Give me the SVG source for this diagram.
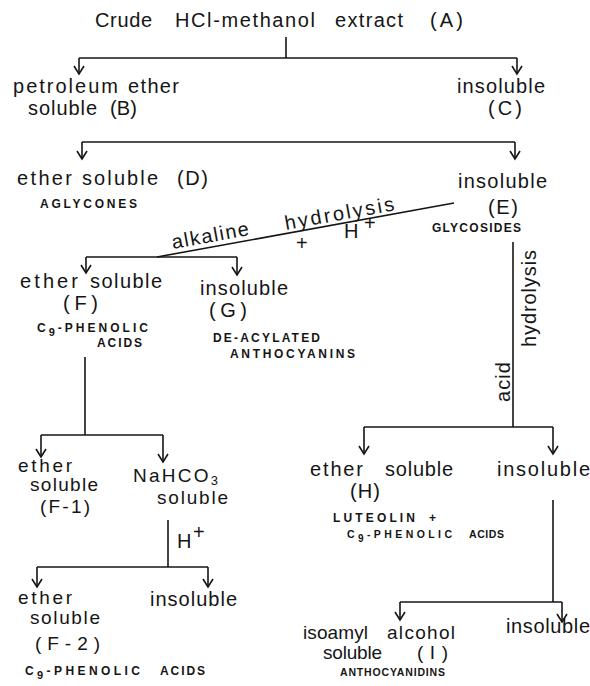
<svg xmlns="http://www.w3.org/2000/svg" width="590" height="686" viewBox="0 0 590 686">
<style>
text{font-family:"Liberation Sans",Arial,sans-serif;fill:#151515}
.t{font-size:20px}
.n{font-size:19px}
.s{font-size:12px;font-weight:bold}
.x{font-size:10.5px;font-weight:bold}
.c line,.c path{stroke:#151515;stroke-width:1.6;fill:none}
</style>
<defs>
<marker id="ah" markerUnits="userSpaceOnUse" markerWidth="14" markerHeight="14" refX="10" refY="7" orient="auto" viewBox="0 0 14 14">
<path d="M2,2 L10,7 L2,12" fill="none" stroke="#151515" stroke-width="1.6"/>
</marker>
</defs>
<rect width="590" height="686" fill="#fff"/>
<g class="c" id="connectors">
<line x1="286" y1="37" x2="286" y2="58"/>
<line x1="79" y1="58" x2="517" y2="58"/>
<line x1="79" y1="58" x2="79" y2="74" marker-end="url(#ah)"/>
<line x1="517" y1="58" x2="517" y2="74" marker-end="url(#ah)"/>
<line x1="82" y1="142" x2="515" y2="142"/>
<line x1="82" y1="142" x2="82" y2="159" marker-end="url(#ah)"/>
<line x1="515" y1="142" x2="515" y2="159" marker-end="url(#ah)"/>
<line x1="454" y1="203" x2="157" y2="257"/>
<line x1="86" y1="257" x2="237" y2="257"/>
<line x1="86" y1="257" x2="86" y2="273" marker-end="url(#ah)"/>
<line x1="237" y1="257" x2="237" y2="275" marker-end="url(#ah)"/>
<line x1="513" y1="242" x2="513" y2="427"/>
<line x1="364" y1="427" x2="553" y2="427"/>
<line x1="364" y1="427" x2="364" y2="454" marker-end="url(#ah)"/>
<line x1="553" y1="427" x2="553" y2="454" marker-end="url(#ah)"/>
<line x1="553" y1="500" x2="553" y2="602"/>
<line x1="400" y1="602" x2="562" y2="602"/>
<line x1="400" y1="602" x2="400" y2="620" marker-end="url(#ah)"/>
<line x1="562" y1="602" x2="562" y2="622" marker-end="url(#ah)"/>
<line x1="85" y1="357" x2="85" y2="435"/>
<line x1="41" y1="435" x2="163" y2="435"/>
<line x1="41" y1="435" x2="41" y2="457" marker-end="url(#ah)"/>
<line x1="163" y1="435" x2="163" y2="462" marker-end="url(#ah)"/>
<line x1="168" y1="520" x2="168" y2="567"/>
<line x1="37" y1="567" x2="208" y2="567"/>
<line x1="37" y1="567" x2="37" y2="587" marker-end="url(#ah)"/>
<line x1="208" y1="567" x2="208" y2="587" marker-end="url(#ah)"/>
</g>
<g id="labels-edges">
<text class="t" transform="translate(173,249) rotate(-10.3)" textLength="78" lengthAdjust="spacing">alkaline</text>
<text class="t" transform="translate(286,230) rotate(-10.3)" textLength="111" lengthAdjust="spacing">hydrolysis</text>
<text class="t" x="296" y="250">+</text>
<text class="t" x="344" y="238">H</text>
<text class="t" x="364" y="230" font-size="13">+</text>
<text class="t" transform="translate(536,347) rotate(-90)" textLength="97" lengthAdjust="spacing">hydrolysis</text>
<text class="t" transform="translate(510,402) rotate(-90)" textLength="40" lengthAdjust="spacing">acid</text>
<text class="t" x="177" y="548">H</text>
<text class="t" x="193" y="539" font-size="14">+</text>
</g>
<g id="A">
<text class="t" x="95" y="27" textLength="57" lengthAdjust="spacing">Crude</text>
<text class="t" x="175" y="27" textLength="140" lengthAdjust="spacing">HCl-methanol</text>
<text class="t" x="335" y="27" textLength="68" lengthAdjust="spacing">extract</text>
<text class="t" x="430" y="27" textLength="33" lengthAdjust="spacing">(A)</text>
</g>
<g id="B">
<text class="t" x="13" y="93" textLength="105" lengthAdjust="spacing">petroleum</text>
<text class="t" x="128" y="93" textLength="51" lengthAdjust="spacing">ether</text>
<text class="t" x="28" y="115" textLength="69" lengthAdjust="spacing">soluble</text>
<text class="t" x="110" y="115" textLength="27" lengthAdjust="spacing">(B)</text>
</g>
<g id="C">
<text class="t" x="457" y="93" textLength="88" lengthAdjust="spacing">insoluble</text>
<text class="t" x="488" y="115" textLength="34" lengthAdjust="spacing">(C)</text>
</g>
<g id="D">
<text class="t" x="17" y="185" textLength="55" lengthAdjust="spacing">ether</text>
<text class="t" x="82" y="185" textLength="76" lengthAdjust="spacing">soluble</text>
<text class="t" x="177" y="185" textLength="31" lengthAdjust="spacing">(D)</text>
<text class="s" x="40" y="208" textLength="97" lengthAdjust="spacing">AGLYCONES</text>
</g>
<g id="E">
<text class="t" x="458" y="188" textLength="89" lengthAdjust="spacing">insoluble</text>
<text class="t" x="488" y="214" textLength="30" lengthAdjust="spacing">(E)</text>
<text class="s" x="432" y="232" textLength="89" lengthAdjust="spacing">GLYCOSIDES</text>
</g>
<g id="F">
<text class="t" x="20" y="288" textLength="58" lengthAdjust="spacing">ether</text>
<text class="t" x="90" y="288" textLength="72" lengthAdjust="spacing">soluble</text>
<text class="t" x="63" y="310" textLength="35" lengthAdjust="spacing">(F)</text>
<text class="s" x="37" y="332" textLength="111" lengthAdjust="spacing">C<tspan dy="4" font-size="11">9</tspan><tspan dy="-4">-PHENOLIC</tspan></text>
<text class="s" x="97" y="347" textLength="45" lengthAdjust="spacing">ACIDS</text>
</g>
<g id="G">
<text class="t" x="200" y="295" textLength="88" lengthAdjust="spacing">insoluble</text>
<text class="t" x="209" y="317" textLength="38" lengthAdjust="spacing">(G)</text>
<text class="s" x="213" y="342" textLength="107" lengthAdjust="spacing">DE-ACYLATED</text>
<text class="s" x="230" y="358" textLength="125" lengthAdjust="spacing">ANTHOCYANINS</text>
</g>
<g id="F-1">
<text class="n" x="18" y="472" textLength="54" lengthAdjust="spacing">ether</text>
<text class="n" x="30" y="491" textLength="68" lengthAdjust="spacing">soluble</text>
<text class="n" x="40" y="513" textLength="50" lengthAdjust="spacing">(F-1)</text>
</g>
<g id="NaHCO3">
<text class="n" x="133" y="482" textLength="85" lengthAdjust="spacing">NaHCO<tspan dy="3" font-size="13">3</tspan></text>
<text class="n" x="157" y="504" textLength="71" lengthAdjust="spacing">soluble</text>
</g>
<g id="F-2">
<text class="n" x="18" y="604" textLength="54" lengthAdjust="spacing">ether</text>
<text class="n" x="30" y="624" textLength="70" lengthAdjust="spacing">soluble</text>
<text class="n" x="35" y="650" textLength="65" lengthAdjust="spacing">(F-2)</text>
<text class="s" x="25" y="675" textLength="115" lengthAdjust="spacing">C<tspan dy="4" font-size="11">9</tspan><tspan dy="-4">-PHENOLIC</tspan></text>
<text class="s" x="160" y="675" textLength="45" lengthAdjust="spacing">ACIDS</text>
</g>
<g id="F-2-insoluble">
<text class="t" x="150" y="606" textLength="87" lengthAdjust="spacing">insoluble</text>
</g>
<g id="H">
<text class="t" x="310" y="476" textLength="53" lengthAdjust="spacing">ether</text>
<text class="t" x="385" y="476" textLength="68" lengthAdjust="spacing">soluble</text>
<text class="t" x="350" y="498" textLength="30" lengthAdjust="spacing">(H)</text>
<text class="s" x="333" y="522" textLength="82" lengthAdjust="spacing">LUTEOLIN</text>
<text class="s" x="429" y="522">+</text>
<text class="x" x="347" y="538" textLength="105" lengthAdjust="spacing">C<tspan dy="4" font-size="10">9</tspan><tspan dy="-4">-PHENOLIC</tspan></text>
<text class="x" x="469" y="538" textLength="35" lengthAdjust="spacing">ACIDS</text>
</g>
<g id="H-insoluble">
<text class="t" x="497" y="476" textLength="93" lengthAdjust="spacing">insoluble</text>
</g>
<g id="I">
<text class="n" x="303" y="639" textLength="65" lengthAdjust="spacing">isoamyl</text>
<text class="n" x="387" y="639" textLength="68" lengthAdjust="spacing">alcohol</text>
<text class="n" x="323" y="659" textLength="59" lengthAdjust="spacing">soluble</text>
<text class="n" x="417" y="659" textLength="31" lengthAdjust="spacing">(I)</text>
<text class="x" x="340" y="676" textLength="105" lengthAdjust="spacing">ANTHOCYANIDINS</text>
</g>
<g id="I-insoluble">
<text class="t" x="506" y="633" textLength="84" lengthAdjust="spacing">insoluble</text>
</g>
</svg>
